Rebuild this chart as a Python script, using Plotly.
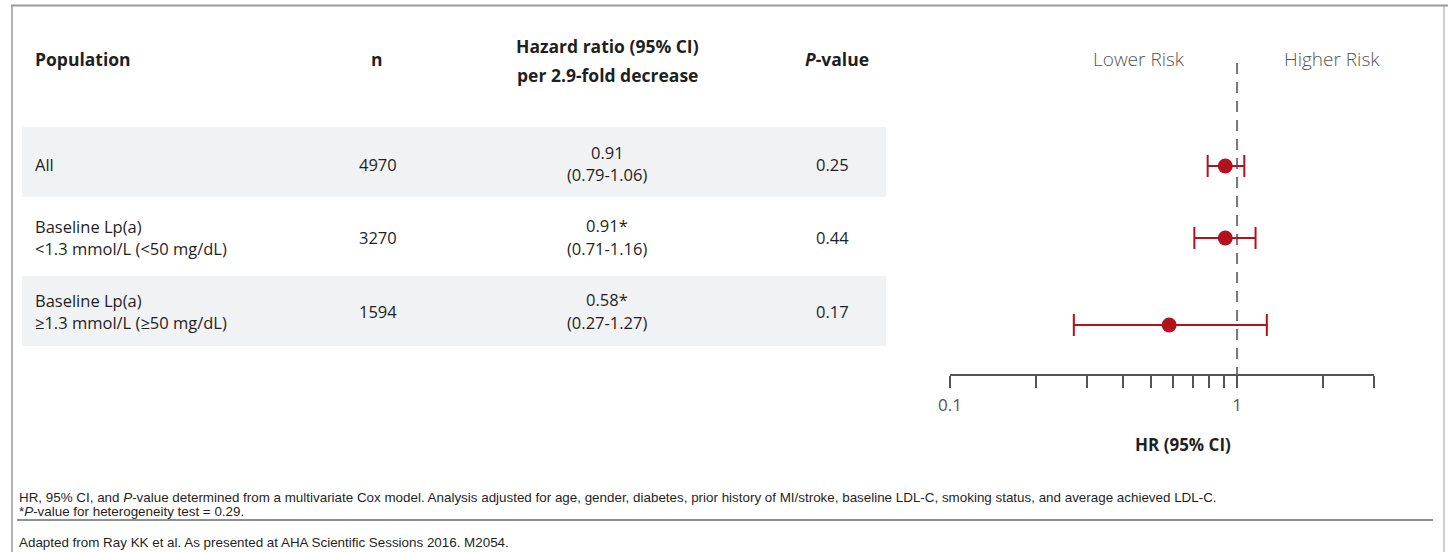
import plotly.graph_objects as go

W, H = 1448, 552

# ---- data ----
pop_line1 = ["All", "Baseline Lp(a)", "Baseline Lp(a)"]
pop_line2 = ["", "<1.3 mmol/L (<50 mg/dL)", "≥1.3 mmol/L (≥50 mg/dL)"]
n_values = ["4970", "3270", "1594"]
hr = [0.91, 0.91, 0.58]
ci_low = [0.79, 0.71, 0.27]
ci_high = [1.06, 1.16, 1.27]
hr_marks = ["", "*", "*"]
p_values = ["0.25", "0.44", "0.17"]
tick_vals = [0.1, 0.2, 0.3, 0.4, 0.5, 0.6, 0.7, 0.8, 0.9, 1, 2, 3]
tick_text = ["0.1", "", "", "", "", "", "", "", "", "1", "", ""]

# ---- layout constants (pixels) ----
row_text_y = [164, 237, 311]
row_line_gap = 22
row_plot_y = [166, 238, 325]
bands = [(127, 197), (276, 346)]
RED = "#b3111d"
TXT = "#1f1f1f"
GRAY = "#555555"
TABLE_FONT = "Open Sans"
NOTE_FONT = "Liberation Sans"


def px(x):
    return x / W


def py(y):
    return 1 - y / H


fig = go.Figure()

# reference line at HR = 1
fig.add_trace(go.Scatter(
    x=[1, 1], y=[63, 386], mode="lines",
    line=dict(color="#777777", width=2, dash="11px,8px"),
    hoverinfo="skip", showlegend=False,
))

# hazard ratios with 95% CI
fig.add_trace(go.Scatter(
    x=hr, y=row_plot_y, mode="markers",
    marker=dict(color=RED, size=15),
    error_x=dict(type="data", symmetric=False,
                 array=[h - m for h, m in zip(ci_high, hr)],
                 arrayminus=[m - l for m, l in zip(hr, ci_low)],
                 color=RED, thickness=2, width=11),
    showlegend=False,
))

shapes = []
# frame
shapes.append(dict(type="line", xref="paper", yref="paper", x0=px(11), x1=1, y0=py(5.5), y1=py(5.5),
                   line=dict(color="#9a9a9a", width=2)))
shapes.append(dict(type="line", xref="paper", yref="paper", x0=px(12), x1=px(12), y0=py(5), y1=0,
                   line=dict(color="#9a9a9a", width=1.5)))
shapes.append(dict(type="line", xref="paper", yref="paper", x0=px(1444), x1=px(1444), y0=py(5), y1=0,
                   line=dict(color="#9a9a9a", width=1)))
# shaded table rows
for y0, y1 in bands:
    shapes.append(dict(type="rect", xref="paper", yref="paper", x0=px(22), x1=px(886),
                       y0=py(y1), y1=py(y0), fillcolor="#f1f2f4", line=dict(width=0), layer="below"))
# footnote rule
shapes.append(dict(type="line", xref="paper", yref="paper", x0=px(17), x1=px(1433), y0=py(520), y1=py(520),
                   line=dict(color="#222222", width=1.2)))

ann = []


def text(x, y, s, size=16.5, color=TXT, xanchor="center", bold=False, family=TABLE_FONT, weight=None):
    ann.append(dict(x=px(x), y=py(y), xref="paper", yref="paper", text=s, showarrow=False,
                    xanchor=xanchor, yanchor="middle", align="left" if xanchor == "left" else "center",
                    font=dict(family=family, size=size, color=color,
                              weight=weight if weight else (700 if bold else 400))))


# column headers
text(33, 59, "Population", size=17.5, xanchor="left", bold=True)
text(377, 59, "n", size=17.5, bold=True)
text(607, 46.5, "Hazard ratio (95% CI)", size=17.5, bold=True)
text(607, 74.5, "per 2.9-fold decrease", size=17.5, bold=True)
text(837, 59, "<i>P</i>-value", size=17.5, bold=True)
text(1139, 59, "Lower Risk", size=19, color=GRAY, weight=300)
text(1332, 59, "Higher Risk", size=19, color=GRAY, weight=300)

# table rows
for i in range(3):
    y = row_text_y[i]
    if pop_line2[i]:
        text(33, y - row_line_gap / 2, pop_line1[i], xanchor="left")
        text(33, y + row_line_gap / 2, pop_line2[i], xanchor="left")
    else:
        text(33, y, pop_line1[i], xanchor="left")
    text(378, y, n_values[i])
    text(607, y - row_line_gap / 2 - 0.5, f"{hr[i]:.2f}{hr_marks[i]}")
    text(607, y + row_line_gap / 2, f"({ci_low[i]:.2f}-{ci_high[i]:.2f})")
    text(832, y, p_values[i])

# axis title
text(1183, 444, "HR (95% CI)", size=17, bold=True)

# footnotes
text(17, 497, "HR, 95% CI, and <i>P</i>-value determined from a multivariate Cox model. Analysis adjusted for age, "
     "gender, diabetes, prior history of MI/stroke, baseline LDL-C, smoking status, and average achieved LDL-C.",
     size=13.4, xanchor="left", family=NOTE_FONT)
text(17, 511, "*<i>P</i>-value for heterogeneity test = 0.29.", size=13.4, xanchor="left", family=NOTE_FONT)
text(17, 542, "Adapted from Ray KK et al. As presented at AHA Scientific Sessions 2016. M2054.",
     size=13.4, xanchor="left", family=NOTE_FONT)

AX_Y = 374
fig.update_layout(
    width=W, height=H,
    margin=dict(l=0, r=0, t=0, b=0, autoexpand=False),
    paper_bgcolor="white", plot_bgcolor="white",
    shapes=shapes, annotations=ann,
    xaxis=dict(type="log", domain=[px(950), px(1374)], range=[-1, 0.47712],
               tickvals=tick_vals, ticktext=tick_text, ticks="outside", ticklen=12,
               tickwidth=2, tickcolor=GRAY, showline=True, linecolor=GRAY, linewidth=2,
               showgrid=False, zeroline=False, ticklabelstandoff=3, automargin=False,
               tickfont=dict(family=TABLE_FONT, size=17, color=GRAY)),
    yaxis=dict(domain=[py(AX_Y), py(60)], range=[AX_Y, 60], visible=False, showgrid=False,
               zeroline=False, automargin=False),
)

fig.write_html("out.html")
